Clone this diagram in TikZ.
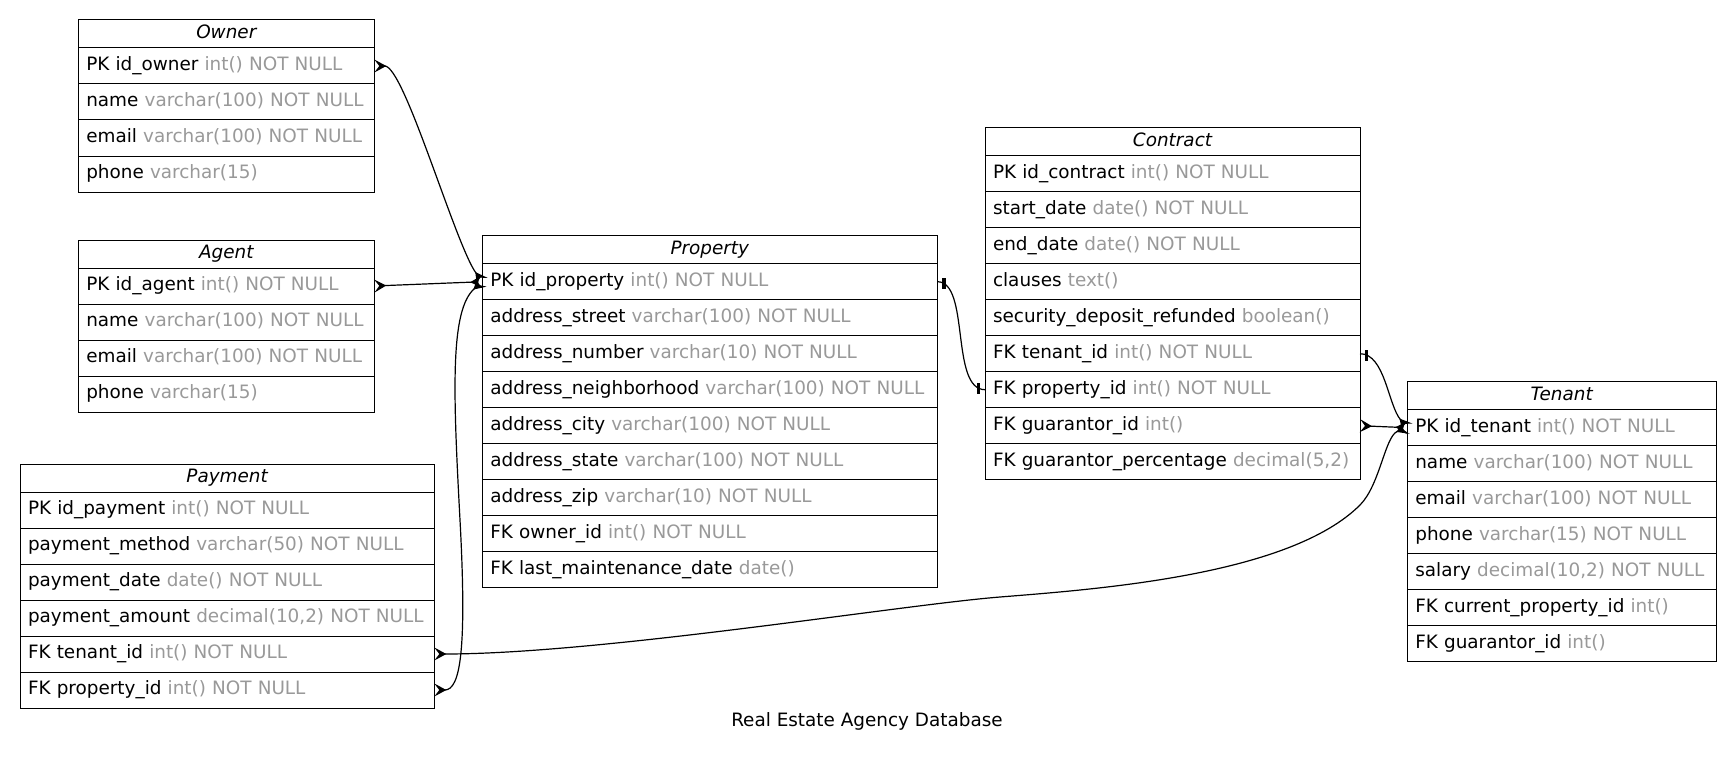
\documentclass[tikz,border=0pt]{standalone}
\usepackage{fontspec}
\setmainfont{DejaVu Sans}
\usetikzlibrary{arrows.meta,decorations.markings}

\definecolor{typegray}{RGB}{153,153,153}
\newcommand\ctype[1]{\textcolor{typegray}{#1}}
% header cell of a table: name, x, y, width, title
\newcommand\erdhead[5]{\node[headcell, minimum width=#4pt, at={(#2,#3)}] (#1) {#5};}
% field cell stacked under another cell: name, cell above, text width, field, type
\newcommand\erdrow[5]{\node[rowcell, text width=#3pt, at={(#2.south west)}] (#1) {#4 \ctype{#5}};}

\tikzset{
  cellbase/.style={draw=black, line width=1pt, outer sep=0pt, anchor=north west,
    inner ysep=0pt, text height=14pt, text depth=4.4pt},
  headcell/.style={cellbase, minimum height=28pt, inner xsep=0pt,
    font=\fontsize{18.4pt}{22pt}\selectfont\itshape},
  rowcell/.style={cellbase, minimum height=36pt, inner xsep=8pt, align=left,
    font=\fontsize{18.4pt}{22pt}\selectfont},
  link/.style={line width=1.2pt, black},
  erdmany/.tip={Stealth[reversed,length=12pt,width=13pt,inset=5pt]},
  teebar/.pic={\fill (-1.6pt,-5.5pt) rectangle (1.6pt,5.5pt);},
  teestart/.style={postaction={decorate,decoration={markings,
    mark=at position 7pt with {\pic{teebar};}}}},
  teeboth/.style={postaction={decorate,decoration={markings,
    mark=at position 7pt with {\pic{teebar};},
    mark=at position -7pt with {\pic{teebar};}}}},
}

\begin{document}
\begin{tikzpicture}[x=1pt, y=-1pt]
\fill[white] (0,0) rectangle (1734,757);
\useasboundingbox (0,0) rectangle (1734,757);

% Owner
\erdhead{o-h}{78.3}{20}{296}{Owner}
\erdrow{o-1}{o-h}{280}{PK id\_owner}{int() NOT NULL}
\erdrow{o-2}{o-1}{280}{name}{varchar(100) NOT NULL}
\erdrow{o-3}{o-2}{280}{email}{varchar(100) NOT NULL}
\erdrow{o-4}{o-3}{280}{phone}{varchar(15)}

% Agent
\erdhead{a-h}{78.3}{240}{296}{Agent}
\erdrow{a-1}{a-h}{280}{PK id\_agent}{int() NOT NULL}
\erdrow{a-2}{a-1}{280}{name}{varchar(100) NOT NULL}
\erdrow{a-3}{a-2}{280}{email}{varchar(100) NOT NULL}
\erdrow{a-4}{a-3}{280}{phone}{varchar(15)}

% Payment
\erdhead{pay-h}{20}{464}{414.3}{Payment}
\erdrow{pay-1}{pay-h}{398.3}{PK id\_payment}{int() NOT NULL}
\erdrow{pay-2}{pay-1}{398.3}{payment\_method}{varchar(50) NOT NULL}
\erdrow{pay-3}{pay-2}{398.3}{payment\_date}{date() NOT NULL}
\erdrow{pay-4}{pay-3}{398.3}{payment\_amount}{decimal(10,2) NOT NULL}
\erdrow{pay-5}{pay-4}{398.3}{FK tenant\_id}{int() NOT NULL}
\erdrow{pay-6}{pay-5}{398.3}{FK property\_id}{int() NOT NULL}

% Property
\erdhead{p-h}{482.3}{235.7}{455}{Property}
\erdrow{p-1}{p-h}{439}{PK id\_property}{int() NOT NULL}
\erdrow{p-2}{p-1}{439}{address\_street}{varchar(100) NOT NULL}
\erdrow{p-3}{p-2}{439}{address\_number}{varchar(10) NOT NULL}
\erdrow{p-4}{p-3}{439}{address\_neighborhood}{varchar(100) NOT NULL}
\erdrow{p-5}{p-4}{439}{address\_city}{varchar(100) NOT NULL}
\erdrow{p-6}{p-5}{439}{address\_state}{varchar(100) NOT NULL}
\erdrow{p-7}{p-6}{439}{address\_zip}{varchar(10) NOT NULL}
\erdrow{p-8}{p-7}{439}{FK owner\_id}{int() NOT NULL}
\erdrow{p-9}{p-8}{439}{FK last\_maintenance\_date}{date()}

% Contract
\erdhead{c-h}{985}{127.7}{375}{Contract}
\erdrow{c-1}{c-h}{359}{PK id\_contract}{int() NOT NULL}
\erdrow{c-2}{c-1}{359}{start\_date}{date() NOT NULL}
\erdrow{c-3}{c-2}{359}{end\_date}{date() NOT NULL}
\erdrow{c-4}{c-3}{359}{clauses}{text()}
\erdrow{c-5}{c-4}{359}{security\_deposit\_refunded}{boolean()}
\erdrow{c-6}{c-5}{359}{FK tenant\_id}{int() NOT NULL}
\erdrow{c-7}{c-6}{359}{FK property\_id}{int() NOT NULL}
\erdrow{c-8}{c-7}{359}{FK guarantor\_id}{int()}
\erdrow{c-9}{c-8}{359}{FK guarantor\_percentage}{decimal(5,2)}

% Tenant
\erdhead{t-h}{1407.3}{381.7}{308.7}{Tenant}
\erdrow{t-1}{t-h}{292.7}{PK id\_tenant}{int() NOT NULL}
\erdrow{t-2}{t-1}{292.7}{name}{varchar(100) NOT NULL}
\erdrow{t-3}{t-2}{292.7}{email}{varchar(100) NOT NULL}
\erdrow{t-4}{t-3}{292.7}{phone}{varchar(15) NOT NULL}
\erdrow{t-5}{t-4}{292.7}{salary}{decimal(10,2) NOT NULL}
\erdrow{t-6}{t-5}{292.7}{FK current\_property\_id}{int()}
\erdrow{t-7}{t-6}{292.7}{FK guarantor\_id}{int()}

% Relationships
\draw[link, erdmany-erdmany] (o-1.east) .. controls +(30,0) and +(-27,-37) .. (p-1.west);
\draw[link, erdmany-erdmany] (a-1.east) -- (p-1.west);
\draw[link, erdmany-erdmany] (pay-6.east) .. controls +(26,0) and (467,650) .. (460,520)
  .. controls (453,390) and (450,310) .. (p-1.west);
\draw[link, erdmany-erdmany] (pay-5.east) .. controls +(166,0) and (900,605) .. (1000,597)
  .. controls (1100,589) and (1290,575) .. (1360,505)
  .. controls (1380,485) and (1385,436) .. (t-1.west);
\draw[link, erdmany-erdmany] (c-8.east) -- (t-1.west);
\draw[link, teestart, -erdmany] (c-6.east) .. controls +(25,0) and (1388,405) .. (t-1.west);
\draw[link, teeboth] (p-1.east) .. controls +(33,0) and +(-35,0) .. (c-7.west);

% Caption
\node[font=\fontsize{18.4pt}{22pt}\selectfont, anchor=base] (title) at (867,726.7)
  {Real Estate Agency Database};
\end{tikzpicture}
\end{document}
